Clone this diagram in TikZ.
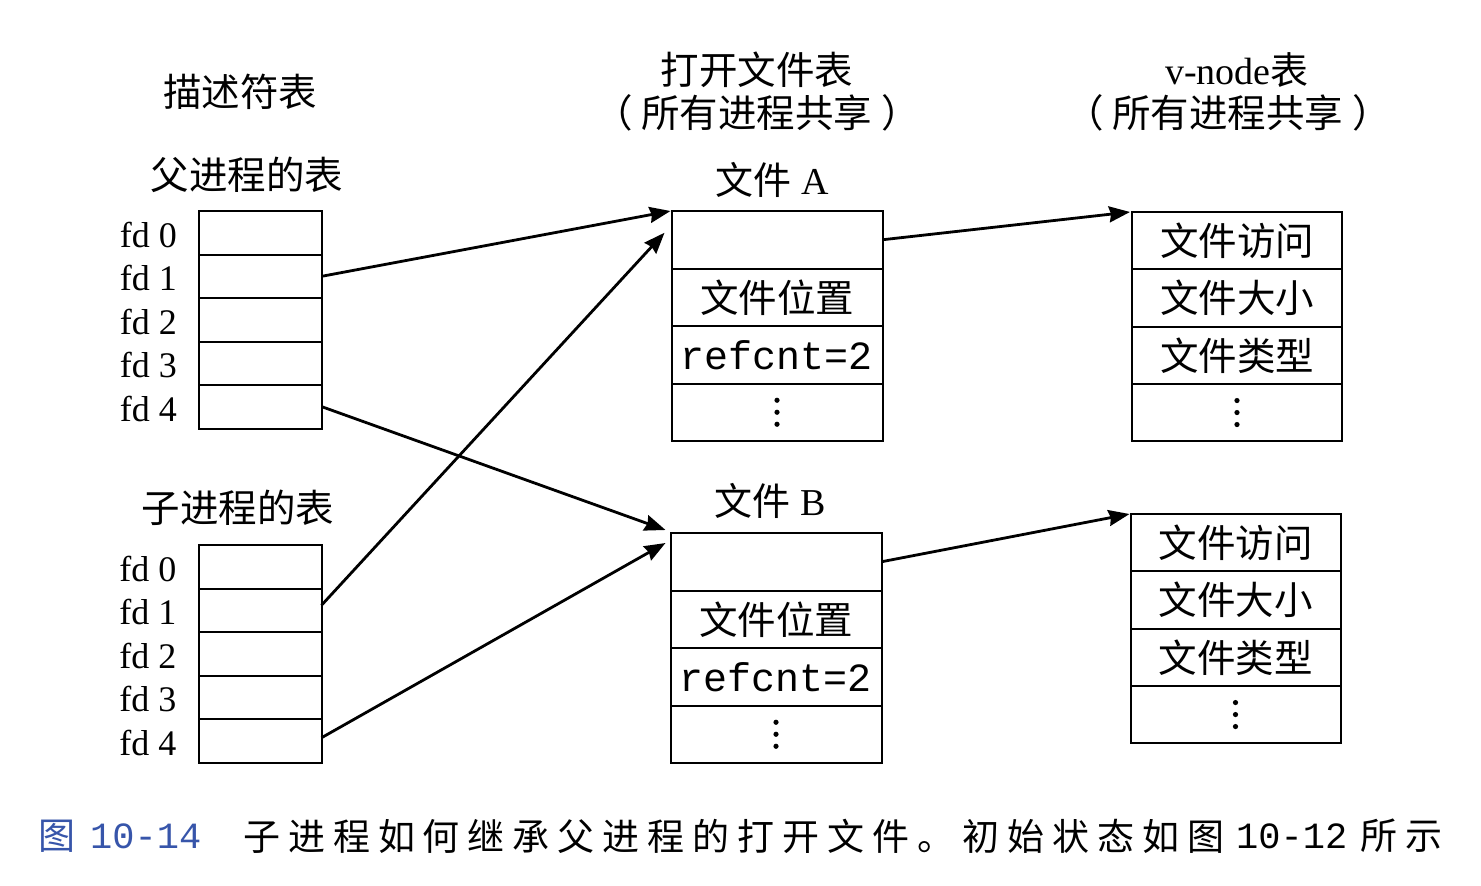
\documentclass[tikz,border=0pt]{standalone}
\usepackage{fontspec}
\setmainfont{Liberation Serif}
\newfontfamily\cjk{Noto Sans CJK SC}
\newfontfamily\capfont[LetterSpace=21.5]{Noto Sans CJK SC}
\newfontfamily\mono{Liberation Mono}
\usetikzlibrary{arrows.meta}
\definecolor{capblue}{RGB}{55,85,170}
\begin{document}
\begin{tikzpicture}[x=1pt,y=-1pt,
  fdcell/.style={draw, line width=2pt, minimum width=123pt, minimum height=43.5pt, inner sep=0pt, outer sep=0pt, anchor=north},
  fcell/.style={draw, line width=2pt, minimum width=211pt, minimum height=57.5pt, inner sep=0pt, outer sep=0pt, anchor=north},
  vcell/.style={draw, line width=2pt, minimum width=210pt, minimum height=57.3pt, inner sep=0pt, outer sep=0pt, anchor=north},
  cjkt/.style={font=\cjk\fontsize{38.5}{40}\selectfont, inner sep=0pt},
  fdl/.style={font=\fontsize{36}{38}\selectfont, inner sep=0pt, anchor=east},
  monot/.style={font=\mono\fontsize{40}{42}\selectfont},
  capt/.style={font=\capfont\fontsize{37}{40}\selectfont, inner sep=0pt, anchor=west},
  capnum/.style={font=\mono\fontsize{37}{40}\selectfont, inner sep=0pt, anchor=west},
  conn/.style={line width=2.8pt, -{Stealth[length=21pt,width=16pt,inset=2pt]}}]
\useasboundingbox (0,0) rectangle (1481,886);
\fill[white] (0,0) rectangle (1481,886);

% titles
\node[cjkt] (t1) at (240,92) {描述符表};
\node[cjkt] (t2) at (247,175) {父进程的表};
\node[cjkt] (t3) at (238,508) {子进程的表};
\node[cjkt] (t4) at (757,70) {打开文件表};
\node[cjkt] (t5) at (757,113) {（ 所有进程共享 ）};
\node[inner sep=0pt] (t6) at (1237,70) {\fontsize{38}{40}\selectfont v-node{\cjk 表}};
\node[cjkt] (t7) at (1228,113) {（ 所有进程共享 ）};
\node[inner sep=0pt] (fa) at (772,180) {\fontsize{38}{40}\selectfont{\cjk 文件} A};
\node[inner sep=0pt] (fb) at (770,501) {\fontsize{38}{40}\selectfont{\cjk 文件} B};

% parent table
\node[fdcell] (p0) at (260.5,211) {};
\node[fdcell] (p1) at (p0.south) {};
\node[fdcell] (p2) at (p1.south) {};
\node[fdcell] (p3) at (p2.south) {};
\node[fdcell] (p4) at (p3.south) {};
% child table
\node[fdcell] (c0) at (260,545) {};
\node[fdcell] (c1) at (c0.south) {};
\node[fdcell] (c2) at (c1.south) {};
\node[fdcell] (c3) at (c2.south) {};
\node[fdcell] (c4) at (c3.south) {};

\foreach \r/\n in {p0/0,p1/1,p2/2,p3/3,p4/4,c0/0,c1/1,c2/2,c3/3,c4/4}{
  \node[fdl] (l\r) at ([xshift=-22pt,yshift=-2pt]\r.west) {fd \n};
}

% file A
\node[fcell] (a1) at (777,211) {};
\node[fcell,cjkt] (a2) at (a1.south) {文件位置};
\node[fcell,monot] (a3) at (a2.south) {refcnt=2};
\node[fcell] (a4) at (a3.south) {};
% file B
\node[fcell] (b1) at (776,533) {};
\node[fcell,cjkt] (b2) at (b1.south) {文件位置};
\node[fcell,monot] (b3) at (b2.south) {refcnt=2};
\node[fcell] (b4) at (b3.south) {};

% v-node A
\node[vcell,cjkt] (va1) at (1237,212) {文件访问};
\node[vcell,cjkt] (va2) at (va1.south) {文件大小};
\node[vcell,cjkt] (va3) at (va2.south) {文件类型};
\node[vcell] (va4) at (va3.south) {};
% v-node B
\node[vcell,cjkt] (vb1) at (1235.5,514) {文件访问};
\node[vcell,cjkt] (vb2) at (vb1.south) {文件大小};
\node[vcell,cjkt] (vb3) at (vb2.south) {文件类型};
\node[vcell] (vb4) at (vb3.south) {};

% vertical dots
\foreach \r in {a4,b4,va4,vb4}{
  \foreach \d in {-12,0,12}{
    \fill ([yshift=\d pt]\r.center) circle (2.6pt);
  }
}

% connectors
\draw[conn] (p1.east) -- ([xshift=-1pt]a1.north west);
\draw[conn] ([yshift=5pt]c1.east) -- ([xshift=-7pt,yshift=7pt]a1.west);
\draw[conn] (p4.east) -- ([xshift=-5pt,yshift=3pt]b1.north west);
\draw[conn] ([yshift=3pt]c4.east) -- ([xshift=-5pt,yshift=-10pt]b1.north west);
\draw[conn] (a1.east) -- ([xshift=-2pt]va1.north west);
\draw[conn] (b1.east) -- ([xshift=-1pt]vb1.north west);

% caption
\node[capt, text=capblue] (cap1) at (38,836) {图};
\node[capnum, text=capblue] (cap1n) at (90,836) {10-14};
\node[capt] (cap2) at (243,836) {子进程如何继承父进程的打开文件。初始状态如图};
\node[capnum] (cap2n) at (1236,836) {10-12};
\node[capt] (cap3) at (1360,836) {所示};
\end{tikzpicture}
\end{document}
